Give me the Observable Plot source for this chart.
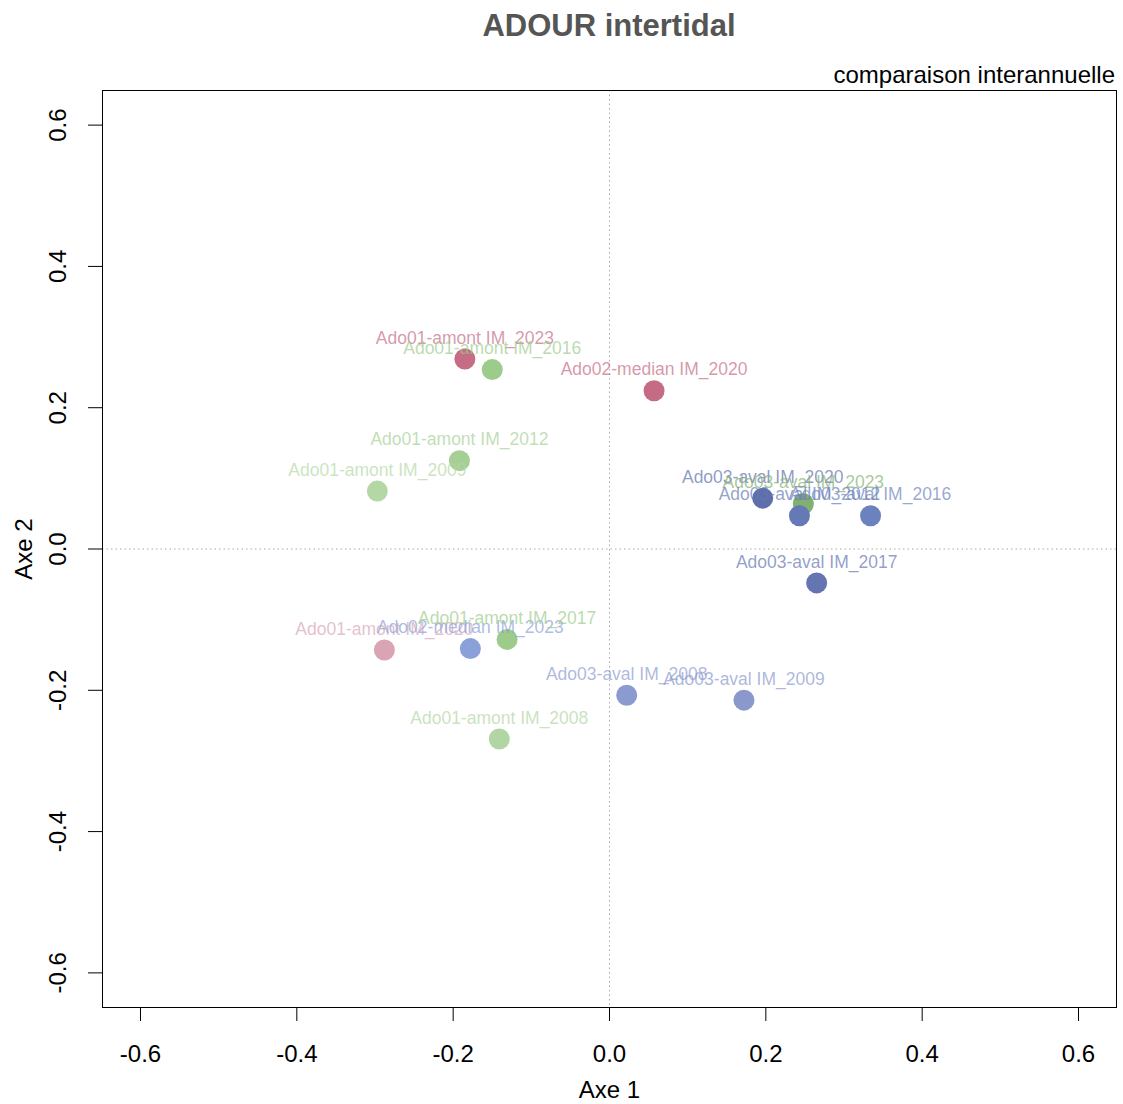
<!DOCTYPE html>
<html>
<head>
<meta charset="utf-8">
<script src="https://cdn.jsdelivr.net/npm/d3@7"></script>
<script src="https://cdn.jsdelivr.net/npm/@observablehq/plot@0.6"></script>
<style>
  body { margin: 0; background: #fff; font-family: "Liberation Sans", Arial, sans-serif; }
  #header { position: relative; width: 1123px; height: 88px; }
  #title { position: absolute; left: 102px; width: 1014px; top: 10px; text-align: center;
           font-weight: bold; font-size: 31px; line-height: 32px; color: #555; }
  #subtitle { position: absolute; right: 8px; top: 63px; font-size: 24px; line-height: 24px; color: #000; }
  #chart svg { display: block; }
</style>
</head>
<body>
<div id="header">
  <div id="title">ADOUR intertidal</div>
  <div id="subtitle">comparaison interannuelle</div>
</div>
<div id="chart"></div>
<script>
// Point labels
const labels = [
  "Ado01-amont IM_2023",
  "Ado01-amont IM_2016",
  "Ado02-median IM_2020",
  "Ado01-amont IM_2012",
  "Ado01-amont IM_2009",
  "Ado03-aval IM_2020",
  "Ado03-aval IM_2023",
  "Ado03-aval IM_2012",
  "Ado03-aval IM_2016",
  "Ado03-aval IM_2017",
  "Ado01-amont IM_2020",
  "Ado02-median IM_2023",
  "Ado01-amont IM_2017",
  "Ado03-aval IM_2008",
  "Ado03-aval IM_2009",
  "Ado01-amont IM_2008"
];
// Coordinates on axis 1
const axe1 = [-0.185, -0.150, 0.057, -0.192, -0.297, 0.196, 0.248, 0.243, 0.334, 0.265, -0.288, -0.178, -0.131, 0.022, 0.172, -0.141];
// Coordinates on axis 2
const axe2 = [0.269, 0.254, 0.224, 0.125, 0.082, 0.072, 0.064, 0.047, 0.047, -0.048, -0.143, -0.141, -0.128, -0.207, -0.214, -0.269];
// Colour of each point (palette, same order as labels)
const pointColors = [
  "#c46d84", "#9ccb8c", "#c56b83", "#a5cf95", "#b3d8a5",
  "#5e6fac", "#82b070", "#6479b5", "#6c82be", "#6475b2",
  "#d9a5b5", "#8aa0d8", "#9ccb8a", "#8b9bd0", "#8a98cc", "#b1d5a3"
];
const xTicks = [-0.6, -0.4, -0.2, 0.0, 0.2, 0.4, 0.6];
const yTicks = [-0.6, -0.4, -0.2, 0.0, 0.2, 0.4, 0.6];

const data = labels.map((name, i) => ({name, x: axe1[i], y: axe2[i]}));
const fmt = d => d.toFixed(1);

const chart = Plot.plot({
  width: 1123,
  height: 1016,
  marginTop: 2,
  marginBottom: 97,
  marginLeft: 102,
  marginRight: 7,
  style: { fontFamily: "'Liberation Sans', Arial, sans-serif", background: "#fff" },
  x: { domain: [-0.6486, 0.6486] },
  y: { domain: [-0.649, 0.649] },
  color: { type: "ordinal", domain: labels, range: pointColors },
  marks: [
    Plot.ruleX([0], { stroke: "#aaa", strokeDasharray: "1.5,3" }),
    Plot.ruleY([0], { stroke: "#aaa", strokeDasharray: "1.5,3" }),
    Plot.dot(data, { x: "x", y: "y", r: 10.5, fill: "name", stroke: "none" }),
    Plot.text(data, { x: "x", y: "y", text: "name", dy: -21, fontSize: 17.5, fill: "name", fillOpacity: 0.7 }),
    Plot.frame({ stroke: "#000" }),
    Plot.axisX({ ticks: xTicks, tickFormat: fmt, tickSize: 14, tickPadding: 23, fontSize: 24,
                 label: "Axe 1", labelAnchor: "center", labelOffset: 90, labelArrow: false, color: "#000" }),
    Plot.axisY({ ticks: yTicks, tickFormat: fmt, tickSize: 14, tickPadding: 23, tickRotate: -90, fontSize: 24,
                 label: "Axe 2", labelAnchor: "center", labelOffset: 88, labelArrow: false, color: "#000" })
  ]
});
document.getElementById("chart").appendChild(chart);
</script>
</body>
</html>
